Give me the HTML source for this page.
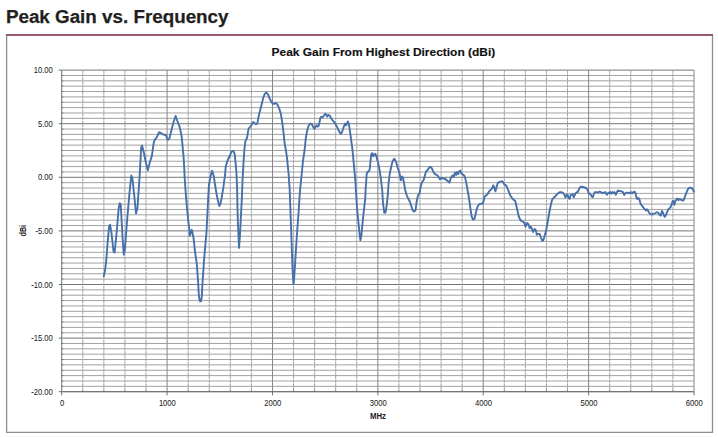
<!DOCTYPE html>
<html><head><meta charset="utf-8"><style>
html,body{margin:0;padding:0;background:#fff;overflow:hidden;width:718px;height:437px;}
svg{display:block;}
</style></head><body>
<svg width="718" height="437" viewBox="0 0 718 437">
<rect width="718" height="437" fill="#fff"/>
<text x="5.9" y="22.5" font-family="Liberation Sans, sans-serif" font-weight="bold" font-size="18.8" fill="#231f20" stroke="#231f20" stroke-width="0.25" textLength="222.6" lengthAdjust="spacingAndGlyphs">Peak Gain vs. Frequency</text>
<path d="M6.6 36V432.4H712.5V35" stroke="#8e8e8e" stroke-width="1.3" fill="none"/>
<rect x="6" y="34" width="707" height="2" fill="#975a6b"/>
<text x="271.6" y="56.4" font-family="Liberation Sans, sans-serif" font-weight="bold" font-size="11.3" fill="#111" stroke="#111" stroke-width="0.15" textLength="223.6" lengthAdjust="spacingAndGlyphs">Peak Gain From Highest Direction (dBi)</text>
<path d="M61.7 75.46H694M61.7 80.82H694M61.7 86.18H694M61.7 91.54H694M61.7 96.9H694M61.7 102.26H694M61.7 107.62H694M61.7 112.98H694M61.7 118.34H694M61.7 129.06H694M61.7 134.42H694M61.7 139.78H694M61.7 145.14H694M61.7 150.5H694M61.7 155.86H694M61.7 161.22H694M61.7 166.58H694M61.7 171.94H694M61.7 182.66H694M61.7 188.02H694M61.7 193.38H694M61.7 198.74H694M61.7 204.1H694M61.7 209.46H694M61.7 214.82H694M61.7 220.18H694M61.7 225.54H694M61.7 236.26H694M61.7 241.62H694M61.7 246.98H694M61.7 252.34H694M61.7 257.7H694M61.7 263.06H694M61.7 268.42H694M61.7 273.78H694M61.7 279.14H694M61.7 289.86H694M61.7 295.22H694M61.7 300.58H694M61.7 305.94H694M61.7 311.3H694M61.7 316.66H694M61.7 322.02H694M61.7 327.38H694M61.7 332.74H694M61.7 343.46H694M61.7 348.82H694M61.7 354.18H694M61.7 359.54H694M61.7 364.9H694M61.7 370.26H694M61.7 375.62H694M61.7 380.98H694M61.7 386.34H694" stroke="#a2a2a2" stroke-width="1.0" fill="none"/><path d="M61.7 70.1H694M61.7 123.7H694M61.7 177.3H694M61.7 230.9H694M61.7 284.5H694M61.7 338.1H694M61.7 391.7H694" stroke="#767676" stroke-width="1.0" fill="none"/><path d="M82.78 70.1V391.7M103.85 70.1V391.7M124.93 70.1V391.7M146.01 70.1V391.7M188.16 70.1V391.7M209.24 70.1V391.7M230.31 70.1V391.7M251.39 70.1V391.7M293.54 70.1V391.7M314.62 70.1V391.7M335.7 70.1V391.7M356.77 70.1V391.7M398.93 70.1V391.7M420 70.1V391.7M441.08 70.1V391.7M462.16 70.1V391.7M504.31 70.1V391.7M525.39 70.1V391.7M546.46 70.1V391.7M567.54 70.1V391.7M609.69 70.1V391.7M630.77 70.1V391.7M651.85 70.1V391.7M672.92 70.1V391.7" stroke="#a0a0a0" stroke-width="1.0" stroke-dasharray="3 0.6" fill="none"/><path d="M167.08 70.1V391.7M272.47 70.1V391.7M377.85 70.1V391.7M483.23 70.1V391.7M588.62 70.1V391.7M694 70.1V391.7" stroke="#858585" stroke-width="1.0" fill="none"/><path d="M61.7 70.1V391.7M61.7 391.7H694M58.7 70.1H61.7M61.7 75.46H63.2M61.7 80.82H63.2M61.7 86.18H63.2M61.7 91.54H63.2M61.7 96.9H63.2M61.7 102.26H63.2M61.7 107.62H63.2M61.7 112.98H63.2M61.7 118.34H63.2M58.7 123.7H61.7M61.7 129.06H63.2M61.7 134.42H63.2M61.7 139.78H63.2M61.7 145.14H63.2M61.7 150.5H63.2M61.7 155.86H63.2M61.7 161.22H63.2M61.7 166.58H63.2M61.7 171.94H63.2M58.7 177.3H61.7M61.7 182.66H63.2M61.7 188.02H63.2M61.7 193.38H63.2M61.7 198.74H63.2M61.7 204.1H63.2M61.7 209.46H63.2M61.7 214.82H63.2M61.7 220.18H63.2M61.7 225.54H63.2M58.7 230.9H61.7M61.7 236.26H63.2M61.7 241.62H63.2M61.7 246.98H63.2M61.7 252.34H63.2M61.7 257.7H63.2M61.7 263.06H63.2M61.7 268.42H63.2M61.7 273.78H63.2M61.7 279.14H63.2M58.7 284.5H61.7M61.7 289.86H63.2M61.7 295.22H63.2M61.7 300.58H63.2M61.7 305.94H63.2M61.7 311.3H63.2M61.7 316.66H63.2M61.7 322.02H63.2M61.7 327.38H63.2M61.7 332.74H63.2M58.7 338.1H61.7M61.7 343.46H63.2M61.7 348.82H63.2M61.7 354.18H63.2M61.7 359.54H63.2M61.7 364.9H63.2M61.7 370.26H63.2M61.7 375.62H63.2M61.7 380.98H63.2M61.7 386.34H63.2M58.7 391.7H61.7M61.7 391.7V395.3M82.78 391.7V390.2M103.85 391.7V390.2M124.93 391.7V390.2M146.01 391.7V390.2M167.08 391.7V395.3M188.16 391.7V390.2M209.24 391.7V390.2M230.31 391.7V390.2M251.39 391.7V390.2M272.47 391.7V395.3M293.54 391.7V390.2M314.62 391.7V390.2M335.7 391.7V390.2M356.77 391.7V390.2M377.85 391.7V395.3M398.93 391.7V390.2M420 391.7V390.2M441.08 391.7V390.2M462.16 391.7V390.2M483.23 391.7V395.3M504.31 391.7V390.2M525.39 391.7V390.2M546.46 391.7V390.2M567.54 391.7V390.2M588.62 391.7V395.3M609.69 391.7V390.2M630.77 391.7V390.2M651.85 391.7V390.2M672.92 391.7V390.2M694 391.7V395.3" stroke="#707070" stroke-width="1" fill="none"/><path d="M103.8 276.4 L105 270.5 L106.2 261 L107.4 245.3 L109 226.8 L110 224.7 L111.5 233 L113.5 251.5 L114.6 252.5 L116.6 233 L118.7 208.2 L119.7 203.1 L120.7 204.1 L122.8 241.2 L123.8 254.6 L124.9 249.4 L126.9 222.6 L129.3 195 L131.3 175.5 L132.4 178.5 L134.4 197 L136 213.5 L137.5 207.4 L139.6 176.5 L141.2 147.7 L142 145.6 L143.7 151.8 L145.7 162 L147.8 170.3 L149.9 162 L151.9 155.9 L153.6 143.5 L154.4 140.4 L156.7 137.4 L159.1 132.2 L161.2 133.2 L163.7 134.7 L165.7 134.7 L167.8 139.8 L169.4 138.4 L171.5 130.1 L173.7 121.5 L175.6 116 L177.8 122.2 L179.2 125.6 L180.6 131 L181.8 137.4 L183.8 160 L184.8 180 L185.8 194 L186.9 206.8 L188.2 220 L188.9 225.5 L189.5 231 L189.8 235.8 L191 232 L191.8 229.8 L193.4 237.2 L194.1 242.6 L194.8 250 L196.8 264 L198 280 L198.8 294.5 L199.5 299.8 L200.3 301.5 L201.1 301 L201.8 296.5 L202.4 285 L204 260.8 L205.6 242 L206.4 233.7 L207.1 220 L208.1 200 L208.9 185 L210.3 177.6 L212 170.8 L213.7 175.6 L215.1 185 L216.7 194.9 L218.2 202 L219.4 206 L220.4 204 L221.4 199.1 L223.4 187.4 L224.2 181 L225 175.6 L225.7 166.7 L227.1 161.9 L228.8 157.7 L230.2 155 L231.5 151.7 L233.3 151 L234.6 153.7 L235.6 163 L236.4 172.2 L237 185 L237.5 208.7 L237.9 222.5 L238.5 236.2 L239 247.9 L239.9 236.2 L240.6 222.5 L241.3 208.7 L242 195 L242.5 181.2 L243.6 160.6 L244.5 148.2 L245.4 141.1 L247 138 L248.6 128.7 L250.1 127.1 L251.7 124.8 L253.2 122.1 L254.8 123.2 L256 124.3 L257.4 123.2 L258.7 116.2 L260.2 110 L261.8 103.8 L263.3 97.6 L264.9 93.7 L266.4 92.6 L268 94.4 L269.5 98.3 L271.1 101.4 L272.7 103.8 L274.2 103.8 L276.1 103 L277.3 104.5 L278.9 107.7 L280.7 113.1 L282 120.9 L283.2 130.2 L284.6 143 L286 151 L287 157.8 L288.6 173.8 L289.7 189.9 L290.5 212 L291.5 239.2 L292.5 268.4 L293.4 283.9 L293.8 283 L294.8 268.4 L296 248.9 L297.3 229.5 L298.6 212 L299.8 193.1 L301.4 177 L303 161 L304.6 150 L305.7 139 L307.1 130.9 L308.6 125.8 L310.3 123.5 L311.8 124.1 L313.2 126.9 L314.5 128.9 L315.7 126.6 L316.6 125.2 L317.4 126.6 L318.6 126.1 L319.5 122.3 L320.4 117.8 L321.5 116.6 L322.7 117.2 L324.1 115.5 L325.2 113.7 L326.3 114.7 L327.3 116.6 L328.4 114.9 L329.8 115.7 L330.9 117.8 L332.6 120.4 L334.4 122.3 L336.1 125.2 L337.8 128.6 L339.5 132.1 L340.7 133.8 L341.8 132.6 L343 129.2 L344.1 125.8 L345.2 123.5 L346.2 125.4 L347 123.5 L347.9 121.5 L348.7 123.5 L349.6 128.6 L350.4 134.4 L351.5 142.4 L352.5 150 L353.2 157.6 L354.4 170.2 L355.5 182.8 L356.2 195 L357 207.6 L358.2 220.2 L359.5 232.8 L360.4 240.3 L361.4 235.3 L362.6 222.7 L363.9 210.1 L365.2 198.8 L365.7 188 L366.7 174 L367.7 171.7 L368.9 171.4 L369.8 168.9 L370.6 160.1 L371.4 153.8 L372.5 153.2 L373.3 156.3 L374.2 155.1 L375.2 153.8 L376.2 155.7 L377.1 158.9 L378.4 163.9 L379.6 170.2 L380.9 179 L382.2 190 L383 203 L384.3 212.8 L385.6 212.3 L386.9 203.8 L387.8 195 L388.5 184 L389.7 174 L391 167.7 L392.2 162.6 L393.5 159.5 L394.5 158.8 L396.1 162 L397.7 167.6 L399.3 172.4 L400.9 180.4 L402 176.4 L403.1 178 L404.1 183.6 L405.2 190 L406.8 195.6 L408.4 198.8 L410 202 L411.3 206 L412.7 210.5 L414.3 211.6 L415.6 210 L416.7 201.2 L418 195.6 L419.6 193.2 L420.7 186.8 L422 182 L423.6 180.1 L424.9 175.6 L426 171.6 L427.6 170 L429.2 167.6 L430.5 166.8 L431.9 168.4 L433.2 171.6 L434.8 174 L436.7 174.8 L438.3 176.4 L440 179.3 L441.5 177.9 L443 178.6 L444.5 178.6 L446.7 180.1 L448.2 181.6 L449.4 182.6 L450.4 179.3 L451.6 176.4 L452.6 175.6 L453.7 177.1 L454.9 172.6 L456.1 174.9 L457.1 171.9 L458.2 174.1 L459.3 171.2 L460.4 170.4 L461.3 173.4 L462.3 174.1 L463.4 174.9 L464.3 175.6 L465.3 178.6 L466.5 183.8 L467.5 189.8 L468.6 195.7 L469.5 201.7 L470.5 209.1 L471.7 216.5 L473 219.5 L474.5 218.8 L475.7 213.6 L477.2 207.6 L478.7 204.6 L480.2 203.9 L482 203.9 L483.5 201.7 L484.6 196.5 L486.1 195.7 L487.6 194.2 L489.1 191.3 L490.6 189.8 L492.1 188.3 L493.3 185.3 L494.3 187.5 L495.4 191.3 L496.5 187.5 L497.7 183.1 L498.8 182.3 L500.1 182 L501.9 181.1 L503.2 182.3 L504.4 184.6 L506.1 185.4 L507.3 188 L508.7 191.4 L510.4 195.7 L512.2 198.3 L513.9 200 L515.2 200.9 L516.4 206 L517.6 211.2 L518.8 216.5 L520.7 220.7 L522.6 221.4 L524.1 222.6 L525.6 226.7 L527.1 223 L528.6 224.5 L529.7 228.3 L530.9 226.7 L532 229 L533.1 232 L534.7 229 L535.8 230.1 L536.9 234.7 L538.4 233.9 L539.6 233.9 L541.1 238 L542.2 240.7 L543.3 240.3 L544.5 236.2 L546 230.9 L547.5 223.3 L548.6 216.5 L549.4 212 L550.2 208 L551 204 L552.1 199.9 L553.6 197.8 L555.1 196.6 L556.7 194.7 L558.2 193.2 L559.8 192.1 L561.3 192.1 L562.9 192.9 L564.4 194.7 L565.4 197.3 L566.5 195.2 L567.5 194.5 L568.5 197.8 L569.6 198.8 L570.6 195.2 L571.6 194.7 L572.7 194.2 L573.7 197.3 L574.7 195.2 L575.7 193.2 L576.8 192.1 L577.8 192.1 L578.8 189.6 L579.9 187.3 L581.4 186.7 L583 187 L584.5 187.5 L586 188 L587.1 189.1 L587.9 190.6 L588.6 193.2 L589.6 193.5 L590.7 194.7 L591.7 196.3 L592.7 197.3 L593.8 194.2 L594.8 192.1 L596.3 192.1 L597.9 192.5 L599.4 191.6 L601 192.1 L602.5 193.2 L604.1 192.7 L605.1 192.1 L606.1 193.7 L607.2 194.7 L608.2 192.7 L609.2 193.2 L610.2 192.1 L611.3 193.7 L612.3 192.1 L613.3 193.2 L614.4 192.1 L615.9 194.7 L616.9 192.1 L618 190.6 L619 191.1 L620.7 191 L621.9 191.6 L623 192.2 L624.2 195 L625.3 193.3 L626.4 192.7 L627.6 192.7 L628.7 193.3 L629.9 192.7 L631 192.2 L632.2 193.3 L633.3 192.2 L634.5 191.6 L635.4 192.7 L636.2 196.7 L637.3 199 L638.2 197.9 L639.3 199 L640.2 202.5 L641.1 204.7 L642.2 205.9 L643.4 207.6 L644.5 208.8 L645.7 210.5 L646.8 209.3 L648 210.5 L649.1 212.8 L650.2 213.9 L651.6 214.5 L653.3 213.9 L655 213.3 L656.8 212.2 L658.2 212.8 L659.6 215 L660.8 215.6 L661.9 211 L662.8 212.2 L664 215.6 L665 216.8 L666.1 214.5 L667.3 211.6 L668.4 209.3 L669.6 208.2 L670.7 207 L671.6 204.2 L672.6 201.3 L673.4 200.7 L674.3 204.7 L675.3 201.3 L676.4 199.6 L677.4 198.5 L678.5 200.2 L679.6 199 L680.8 199.6 L681.9 200.2 L683.1 200.7 L684.2 199 L685 196.2 L686 193.9 L687.1 191 L688.2 188.7 L689.4 187.8 L690.5 187.6 L691.7 188.2 L692.8 189.3 L693.9 191.6" stroke="#4670aa" stroke-width="1.9" fill="none" stroke-linejoin="round" stroke-linecap="round"/><g font-family="Liberation Sans, sans-serif" font-size="8.3" fill="#1c1c1c" stroke="#1c1c1c" stroke-width="0.05"><text x="52.8" y="73.1" text-anchor="end" textLength="19.12" lengthAdjust="spacingAndGlyphs">10.00</text><text x="52.8" y="126.7" text-anchor="end" textLength="14.87" lengthAdjust="spacingAndGlyphs">5.00</text><text x="52.8" y="180.3" text-anchor="end" textLength="14.87" lengthAdjust="spacingAndGlyphs">0.00</text><text x="52.8" y="233.9" text-anchor="end" textLength="17.41" lengthAdjust="spacingAndGlyphs">-5.00</text><text x="52.8" y="287.5" text-anchor="end" textLength="21.66" lengthAdjust="spacingAndGlyphs">-10.00</text><text x="52.8" y="341.1" text-anchor="end" textLength="21.66" lengthAdjust="spacingAndGlyphs">-15.00</text><text x="52.8" y="394.7" text-anchor="end" textLength="21.66" lengthAdjust="spacingAndGlyphs">-20.00</text><text x="62" y="405.9" text-anchor="middle" textLength="4.25" lengthAdjust="spacingAndGlyphs">0</text><text x="167.38" y="405.9" text-anchor="middle" textLength="17" lengthAdjust="spacingAndGlyphs">1000</text><text x="272.77" y="405.9" text-anchor="middle" textLength="17" lengthAdjust="spacingAndGlyphs">2000</text><text x="378.15" y="405.9" text-anchor="middle" textLength="17" lengthAdjust="spacingAndGlyphs">3000</text><text x="483.53" y="405.9" text-anchor="middle" textLength="17" lengthAdjust="spacingAndGlyphs">4000</text><text x="588.92" y="405.9" text-anchor="middle" textLength="17" lengthAdjust="spacingAndGlyphs">5000</text><text x="694.3" y="405.9" text-anchor="middle" textLength="17" lengthAdjust="spacingAndGlyphs">6000</text></g>
<text x="378" y="419" font-family="Liberation Sans, sans-serif" font-weight="bold" font-size="8.3" fill="#1c1c1c" text-anchor="middle" textLength="16" lengthAdjust="spacingAndGlyphs">MHz</text>
<text transform="translate(26.2 230.7) rotate(-90)" font-family="Liberation Sans, sans-serif" font-weight="bold" font-size="8.4" fill="#1c1c1c" text-anchor="middle" textLength="11.6" lengthAdjust="spacingAndGlyphs">dBi</text>
</svg>
</body></html>
